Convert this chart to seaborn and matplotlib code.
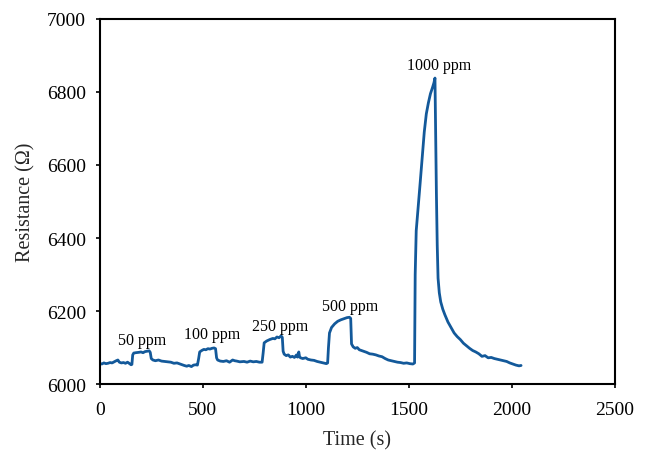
import matplotlib
matplotlib.use("Agg")
import matplotlib.pyplot as plt
import seaborn as sns
import pandas as pd

# =============================
# DATA
# =============================
time_s = [
    0, 10, 20, 30, 40, 50, 60, 70, 80, 88, 95, 105, 115, 125, 135, 145, 152, 156,
    160, 165, 175, 190, 200, 210, 220, 230, 240, 245,
    250, 258, 270, 285, 300, 315, 330, 345, 360, 375, 390, 400, 410, 422, 432, 445, 455, 466, 474,
    480, 485, 495, 505, 515, 525, 535, 545, 555, 562,
    567, 572, 585, 600, 615, 630, 645, 655, 665, 680, 700, 715, 730, 745, 760, 775, 788,
    793, 798, 810, 825, 840, 850, 860, 870, 880, 886,
    890, 895, 905, 915, 925, 935, 945, 955, 960, 966, 970, 975, 985, 1000, 1010, 1025,
    1040, 1055, 1070, 1085, 1100, 1106,
    1110, 1115, 1125, 1140, 1155, 1170, 1185, 1200, 1212, 1218,
    1222, 1230, 1240, 1250, 1260, 1270, 1280, 1295, 1310, 1325, 1340, 1355, 1370, 1385,
    1400, 1415, 1430, 1445, 1460, 1475, 1490, 1505, 1520, 1528,
    1531, 1536, 1545, 1555, 1565, 1575, 1585, 1595, 1605, 1615, 1622, 1627,
    1630, 1634, 1638, 1642, 1648, 1655, 1665, 1675, 1690, 1705, 1720, 1735, 1750, 1765,
    1780, 1795, 1810, 1825, 1840, 1855, 1870, 1885, 1900, 1915, 1930, 1945, 1960, 1975,
    1990, 2005, 2020, 2035, 2045,
]
resistance = [
    6057, 6055, 6058, 6056, 6057, 6059, 6058, 6061, 6064, 6066, 6060, 6058, 6059, 6057, 6060, 6056, 6053, 6054,
    6080, 6085, 6086, 6087, 6088, 6086, 6089, 6090, 6091, 6087,
    6070, 6066, 6064, 6066, 6063, 6062, 6061, 6060, 6057, 6058, 6055, 6053, 6051, 6049, 6051, 6048, 6052, 6053, 6052,
    6070, 6088, 6092, 6095, 6094, 6097, 6096, 6098, 6099, 6097,
    6072, 6066, 6063, 6062, 6064, 6060, 6066, 6064, 6063, 6061, 6062, 6060, 6063, 6061, 6062, 6060, 6060,
    6085, 6113, 6118, 6122, 6125, 6124, 6129, 6127, 6132, 6128,
    6090, 6082, 6078, 6080, 6074, 6076, 6073, 6080, 6074, 6088, 6074, 6072, 6070, 6072, 6068, 6066,
    6065, 6062, 6060, 6058, 6056, 6058,
    6100, 6140, 6155, 6165, 6172, 6176, 6179, 6182, 6183, 6180,
    6110, 6102, 6098, 6100, 6094, 6092, 6090, 6087, 6083, 6082, 6080, 6077, 6075, 6070,
    6066, 6064, 6062, 6060, 6059, 6057, 6058, 6056, 6055, 6058,
    6300, 6420, 6480, 6550, 6620, 6690, 6740, 6770, 6795, 6812, 6825, 6838,
    6700, 6520, 6380, 6290, 6250, 6225, 6205, 6190, 6170, 6155, 6140, 6130, 6122, 6112,
    6105, 6098, 6092, 6088, 6083, 6076, 6078, 6072, 6073, 6070, 6068, 6066, 6064, 6062,
    6058, 6055, 6052, 6050, 6051,
]

labels = ["50 ppm", "100 ppm", "250 ppm", "500 ppm", "1000 ppm"]
label_t = [204, 544, 874, 1214, 1646]
label_r = [6120, 6137, 6159, 6214, 6874]

x_ticks = [0, 500, 1000, 1500, 2000, 2500]
y_ticks = [6000, 6200, 6400, 6600, 6800, 7000]

df = pd.DataFrame({"Time": time_s, "Resistance": resistance})

# =============================
# PLOT
# =============================
sns.set_theme(style="ticks")
plt.rcParams["font.family"] = ["Liberation Serif", "DejaVu Serif"]

fig = plt.figure(figsize=(6.52, 4.52), dpi=100)
ax = fig.add_axes([0.153, 0.148, 0.79, 0.808])

sns.lineplot(data=df, x="Time", y="Resistance", ax=ax,
             color="#13599a", linewidth=2.0, sort=False, estimator=None)

for txt, t, r in zip(labels, label_t, label_r):
    ax.text(t, r, txt, ha="center", va="center", fontsize=11.5, color="black")

ax.set_xlim(0, 2500)
ax.set_ylim(6000, 7000)
ax.set_xticks(x_ticks)
ax.set_yticks(y_ticks)
ax.set_xlabel("Time (s)", fontsize=14.5, labelpad=9)
ax.set_ylabel("Resistance (Ω)", fontsize=14.5, labelpad=8)
ax.tick_params(axis="both", direction="out", length=3, width=1.2,
               labelsize=14, colors="black", pad=7)
ax.tick_params(axis="x", pad=9)

for s in ax.spines.values():
    s.set_visible(True)
    s.set_color("black")
    s.set_linewidth(1.5)

fig.savefig("out.png", dpi=100)
